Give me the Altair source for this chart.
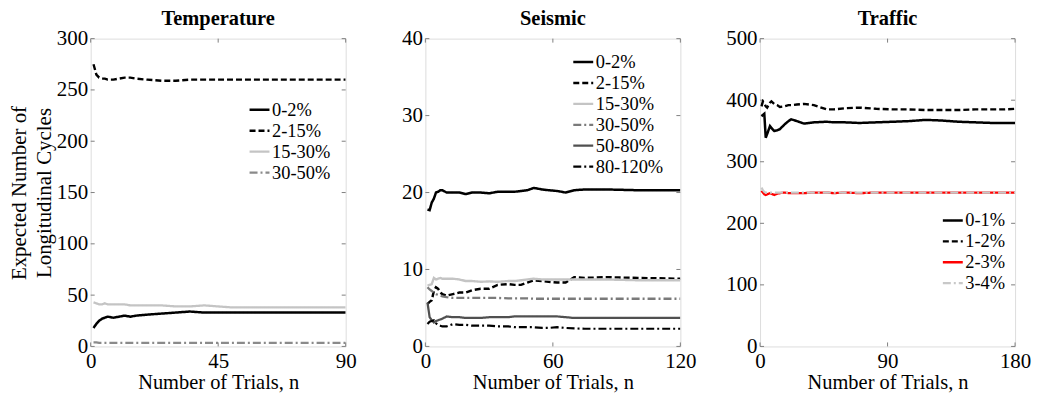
import altair as alt
import pandas as pd

FONT = "Liberation Serif"

# ---------------- Temperature ----------------
temp_n = [1, 2, 3, 4, 5, 6, 8, 10, 12, 14, 16, 20, 25, 30, 35, 40, 45, 50, 60, 70, 80, 90]
temp_0_2 = [18, 22, 25, 27, 28, 29, 28, 29, 30, 29, 30, 31, 32, 33, 34, 33, 33, 33, 33, 33, 33, 33]
temp_2_15 = [275, 265, 262, 261, 261, 260, 260, 261, 262, 262, 261, 260, 259, 259, 260, 260, 260, 260, 260, 260, 260, 260]
temp_15_30 = [43, 42, 41, 41, 42, 41, 41, 41, 41, 40, 40, 40, 40, 39, 39, 40, 39, 38, 38, 38, 38, 38]
temp_30_50 = [4, 4, 3.5, 3.5, 3.5, 3.5, 3.5, 3.5, 3.5, 3.5, 3.5, 3.5, 3.5, 3.5, 3.5, 3.5, 3.5, 3.5, 3.5, 3.5, 3.5, 3.5]
temp_series = ["0-2%", "2-15%", "15-30%", "30-50%"]
temp_values = [temp_0_2, temp_2_15, temp_15_30, temp_30_50]
temp_colors = ["#000000", "#000000", "#c4c4c4", "#8a8a8a"]
temp_dashes = [[1, 0], [6, 3], [1, 0], [8, 3, 2, 3]]
temp_widths = [2.5, 2.2, 2.5, 2.2]
temp_xticks = [0, 45, 90]
temp_yticks = [0, 50, 100, 150, 200, 250, 300]

# ---------------- Seismic ----------------
seis_n = [1, 2, 3, 4, 5, 6, 7, 8, 10, 13, 16, 19, 22, 26, 30, 34, 39, 42, 45, 48, 51, 55, 58, 62, 66, 70, 75, 85, 100, 120]
seis_0_2 = [17.8, 17.7, 18.7, 19.2, 20.0, 20.1, 20.3, 20.3, 20.0, 20.0, 20.0, 19.8, 20.0, 20.0, 19.9, 20.1, 20.1, 20.1, 20.2, 20.3, 20.6, 20.4, 20.3, 20.2, 20.0, 20.3, 20.4, 20.4, 20.3, 20.3]
seis_2_15 = [5.5, 5.8, 6.0, 7.2, 7.7, 7.5, 7.0, 6.8, 6.6, 6.8, 7.0, 7.0, 7.3, 7.5, 7.5, 8.0, 8.1, 8.0, 8.0, 8.3, 8.6, 8.5, 8.4, 8.3, 8.3, 9.0, 8.9, 9.0, 8.9, 8.8]
seis_15_30 = [7.9, 8.0, 8.1, 8.9, 8.7, 8.8, 8.9, 8.8, 8.8, 8.8, 8.7, 8.5, 8.5, 8.4, 8.45, 8.4, 8.5, 8.5, 8.6, 8.7, 8.8, 8.7, 8.7, 8.7, 8.7, 8.7, 8.7, 8.7, 8.6, 8.6]
seis_30_50 = [7.7, 7.4, 7.2, 7.0, 6.8, 6.7, 6.6, 6.5, 6.4, 6.3, 6.3, 6.3, 6.3, 6.3, 6.3, 6.3, 6.25, 6.25, 6.25, 6.25, 6.2, 6.2, 6.2, 6.2, 6.2, 6.2, 6.2, 6.2, 6.2, 6.2]
seis_50_80 = [5.7, 3.8, 3.4, 3.1, 3.3, 3.4, 3.5, 3.6, 3.9, 3.8, 3.8, 3.7, 3.7, 3.7, 3.8, 3.8, 3.8, 3.9, 3.9, 3.9, 3.9, 3.9, 3.9, 3.9, 3.8, 3.7, 3.7, 3.7, 3.7, 3.7]
seis_80_120 = [2.9, 3.2, 3.3, 3.4, 3.0, 2.8, 2.7, 2.6, 2.6, 2.9, 2.8, 2.8, 2.7, 2.7, 2.7, 2.6, 2.6, 2.5, 2.5, 2.5, 2.5, 2.4, 2.4, 2.5, 2.4, 2.35, 2.3, 2.3, 2.3, 2.3]
seis_series = ["0-2%", "2-15%", "15-30%", "30-50%", "50-80%", "80-120%"]
seis_values = [seis_0_2, seis_2_15, seis_15_30, seis_30_50, seis_50_80, seis_80_120]
seis_colors = ["#000000", "#000000", "#c4c4c4", "#7a7a7a", "#505050", "#000000"]
seis_dashes = [[1, 0], [6, 3], [1, 0], [8, 3, 2, 3], [1, 0], [8, 3, 2, 3]]
seis_widths = [2.5, 2.2, 2.5, 2.0, 2.5, 1.2]
seis_xticks = [0, 60, 120]
seis_yticks = [0, 10, 20, 30, 40]

# ---------------- Traffic ----------------
traf_n = [1, 2, 3, 4, 5, 7, 8, 10, 12, 14, 17, 20, 22, 26, 31, 38, 47, 52, 60, 70, 82, 94, 105, 117, 128, 140, 152, 164, 172, 180]
traf_0_1 = [374, 376, 378, 339, 345, 358, 355, 350, 351, 353, 360, 366, 369, 366, 362, 364, 365, 364, 364, 363, 364, 365, 366, 368, 367, 365, 364, 363, 363, 363]
traf_1_2 = [390, 398, 395, 390, 388, 396, 398, 394, 392, 389, 390, 392, 392, 393, 394, 392, 385, 385, 387, 388, 386, 385, 385, 384, 384, 384, 385, 385, 385, 386]
traf_2_3 = [253, 250, 247, 246, 247, 249, 248, 246, 248, 249, 250, 249, 249, 249, 249, 250, 250, 249, 250, 249, 250, 250, 250, 250, 250, 250, 250, 250, 250, 250]
traf_3_4 = [258, 254, 251, 250, 250, 250, 250, 250, 250, 250, 250, 250, 250, 250, 250, 250, 250, 250, 250, 250, 250, 250, 250, 250, 250, 250, 250, 250, 250, 250]
traf_series = ["0-1%", "1-2%", "2-3%", "3-4%"]
traf_values = [traf_0_1, traf_1_2, traf_2_3, traf_3_4]
traf_colors = ["#000000", "#000000", "#ff0000", "#c8c8c8"]
traf_dashes = [[1, 0], [6, 3], [1, 0], [8, 3, 2, 3]]
traf_widths = [2.5, 2.2, 2.5, 2.2]
traf_xticks = [0, 90, 180]
traf_yticks = [0, 100, 200, 300, 400, 500]

W, H = 256, 309


def panel(title, n, series, values, colors, dashes, widths, xticks, yticks, legend_x, legend_y, ytitle=None):
    rows = []
    for s, vals in zip(series, values):
        for i, v in zip(n, vals):
            rows.append({"n": i, "v": v, "series": s})
    df = pd.DataFrame(rows)
    legend = alt.Legend(
        title=None, orient="none", legendX=legend_x, legendY=legend_y,
        symbolType="stroke", symbolSize=400, symbolStrokeWidth=2.5,
        labelFont=FONT, labelFontSize=18.5, labelColor="#000000",
        rowPadding=0, labelOffset=1, padding=0,
    )
    yaxis_kwargs = dict(values=yticks, domain=False, ticks=False, grid=False,
                        labelFont=FONT, labelFontSize=21, labelColor="#000000",
                        labelPadding=3)
    if ytitle is not None:
        yaxis = alt.Axis(title=ytitle, titleFont=FONT, titleFontSize=21,
                         titleFontWeight="normal", titleColor="#000000",
                         titlePadding=2, titleLineHeight=25, **yaxis_kwargs)
    else:
        yaxis = alt.Axis(title=None, **yaxis_kwargs)
    xaxis = alt.Axis(values=xticks, title="Number of Trials, n", domain=False, ticks=False,
                     grid=False, labelFont=FONT, labelFontSize=21, labelColor="#000000",
                     labelPadding=4, titleFont=FONT, titleFontSize=20.5,
                     titleFontWeight="normal", titleColor="#000000", titlePadding=1,
                     labelFlush=False)
    xscale = alt.Scale(domain=[xticks[0], xticks[-1]], nice=False, zero=False)
    yscale = alt.Scale(domain=[yticks[0], yticks[-1]], nice=False)
    lines = alt.Chart(df).mark_line(clip=True).encode(
        x=alt.X("n:Q", scale=xscale, axis=xaxis),
        y=alt.Y("v:Q", scale=yscale, axis=yaxis),
        color=alt.Color("series:N", scale=alt.Scale(domain=series, range=colors), legend=legend),
        strokeDash=alt.StrokeDash("series:N", scale=alt.Scale(domain=series, range=dashes), legend=legend),
        strokeWidth=alt.StrokeWidth("series:N", scale=alt.Scale(domain=series, range=widths), legend=None),
        order=alt.Order("n:Q"),
    )
    xt = pd.DataFrame({"t": xticks})
    yt = pd.DataFrame({"t": yticks})
    tick_color = "#808080"
    xb = alt.Chart(xt).mark_rule(color=tick_color, strokeWidth=1).encode(
        x=alt.X("t:Q", scale=xscale), y=alt.value(H), y2=alt.value(H - 4))
    xtop = alt.Chart(xt).mark_rule(color=tick_color, strokeWidth=1).encode(
        x=alt.X("t:Q", scale=xscale), y=alt.value(0), y2=alt.value(4))
    yl = alt.Chart(yt).mark_rule(color=tick_color, strokeWidth=1).encode(
        y=alt.Y("t:Q", scale=yscale), x=alt.value(0), x2=alt.value(4))
    yr = alt.Chart(yt).mark_rule(color=tick_color, strokeWidth=1).encode(
        y=alt.Y("t:Q", scale=yscale), x=alt.value(W), x2=alt.value(W - 4))
    return alt.layer(xb, xtop, yl, yr, lines).properties(
        width=W, height=H,
        title=alt.TitleParams(title, font=FONT, fontSize=20.5, fontWeight="bold",
                              color="#000000", offset=-2),
    )


p1 = panel("Temperature", temp_n, temp_series, temp_values, temp_colors, temp_dashes, temp_widths,
           temp_xticks, temp_yticks, 158, 60, ytitle=["Expected Number of", "Longitudinal Cycles"])
p2 = panel("Seismic", seis_n, seis_series, seis_values, seis_colors, seis_dashes, seis_widths,
           seis_xticks, seis_yticks, 147, 12)
p3 = panel("Traffic", traf_n, traf_series, traf_values, traf_colors, traf_dashes, traf_widths,
           traf_xticks, traf_yticks, 182, 171)

chart = alt.hconcat(p1, p2, p3, spacing=80, bounds="flush").resolve_scale(
    color="independent", strokeDash="independent", strokeWidth="independent",
    x="independent", y="independent"
).properties(padding={"left": 0, "top": 0, "right": 0, "bottom": 0}).configure_view(
    stroke="#808080", strokeWidth=1
).configure(background="white")

chart.save("out.html", embed_options={"renderer": "svg", "actions": False})
